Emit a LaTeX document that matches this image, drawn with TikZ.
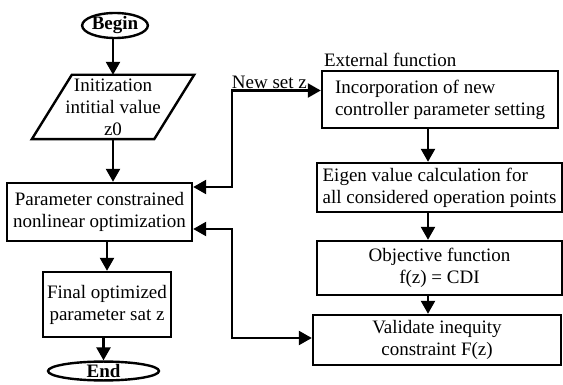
\documentclass[tikz,border=0pt]{standalone}
\usepackage{fontspec}
\setmainfont{Liberation Serif}
\usetikzlibrary{shapes.geometric,arrows.meta,calc}
\begin{document}
\begin{tikzpicture}[x=1pt,y=-1pt,
  every node/.style={font=\fontsize{19}{22}\selectfont},
  box/.style={draw,line width=2.4pt,rectangle,inner sep=2pt,align=center},
  term/.style={draw,line width=2.4pt,ellipse,inner sep=0pt,font=\fontsize{19}{22}\selectfont\bfseries},
  tip/.tip={Triangle[length=13pt,width=14pt]},
  arr/.style={line width=2.4pt,-tip},
  darr/.style={line width=2.4pt,tip-tip}]
\useasboundingbox (0,0) rectangle (563,385);

% left column
\node[term,minimum width=65pt,minimum height=25pt] (begin) at (115,25.5) {Begin};
\node[align=center,inner sep=0pt,minimum width=122pt,minimum height=64pt] (init) at (113,107)
  {Initization\\intitial value\\z0};
\draw[line width=2.4pt,line join=miter] ([xshift=20pt]init.north west) -- ([xshift=20pt]init.north east)
  -- ([xshift=-20pt]init.south east) -- ([xshift=-20pt]init.south west) -- cycle;
\node[box,minimum width=185pt,minimum height=58pt] (param) at (99.5,212)
  {Parameter constrained\\nonlinear optimization};
\node[box,minimum width=128pt,minimum height=65pt] (final) at (107,304.5)
  {Final optimized\\parameter sat z};
\node[term,minimum width=111pt,minimum height=18pt] (end) at (103.5,371) {End};

% external function column
\node[box,align=left,minimum width=236pt,minimum height=57pt] (incorp) at (440,99.5)
  {Incorporation of new\\controller parameter setting};
\node[anchor=south west,inner sep=2pt] (extlbl) at ([xshift=1pt,yshift=1pt]incorp.north west) {External function};
\node[box,align=left,minimum width=245pt,minimum height=49pt] (eigen) at (439.5,187.5)
  {Eigen value calculation for\\all considered operation points};
\node[box,minimum width=245pt,minimum height=54pt] (objf) at (439.5,268)
  {Objective function\\f(z) = CDI};
\node[box,minimum width=248pt,minimum height=50pt] (valid) at (437,340)
  {Validate inequity\\constraint F(z)};

% main flow
\draw[arr] (init.north |- begin.south) -- (init.north);
\draw[arr] (init.south) -- (init.south |- param.north);
\draw[arr] (final.north |- param.south) -- (final.north);
\draw[arr] (end.north |- final.south) -- (end.north);

\coordinate (xa) at ([xshift=-12pt]incorp.south);
\draw[arr] (xa) -- (xa |- eigen.north);
\draw[arr] (xa |- eigen.south) -- (xa |- objf.north);
\draw[arr] (xa |- objf.south) -- (xa |- valid.north);

% links between optimizer and external function
\coordinate (j1) at (232,0);
\coordinate (pa) at ([yshift=25pt]param.east);
\coordinate (pb) at ([yshift=-17pt]param.east);
\coordinate (ia) at ([yshift=9pt]incorp.west);
\coordinate (va) at ([yshift=2pt]valid.west);
\draw[darr] (pa) -| (j1 |- ia) -- (ia);
\draw[darr] (pb) -| (j1 |- va) -- (va);
\node[anchor=east,inner sep=1pt] (newz) at (308,82) {New set z};
\end{tikzpicture}
\end{document}
